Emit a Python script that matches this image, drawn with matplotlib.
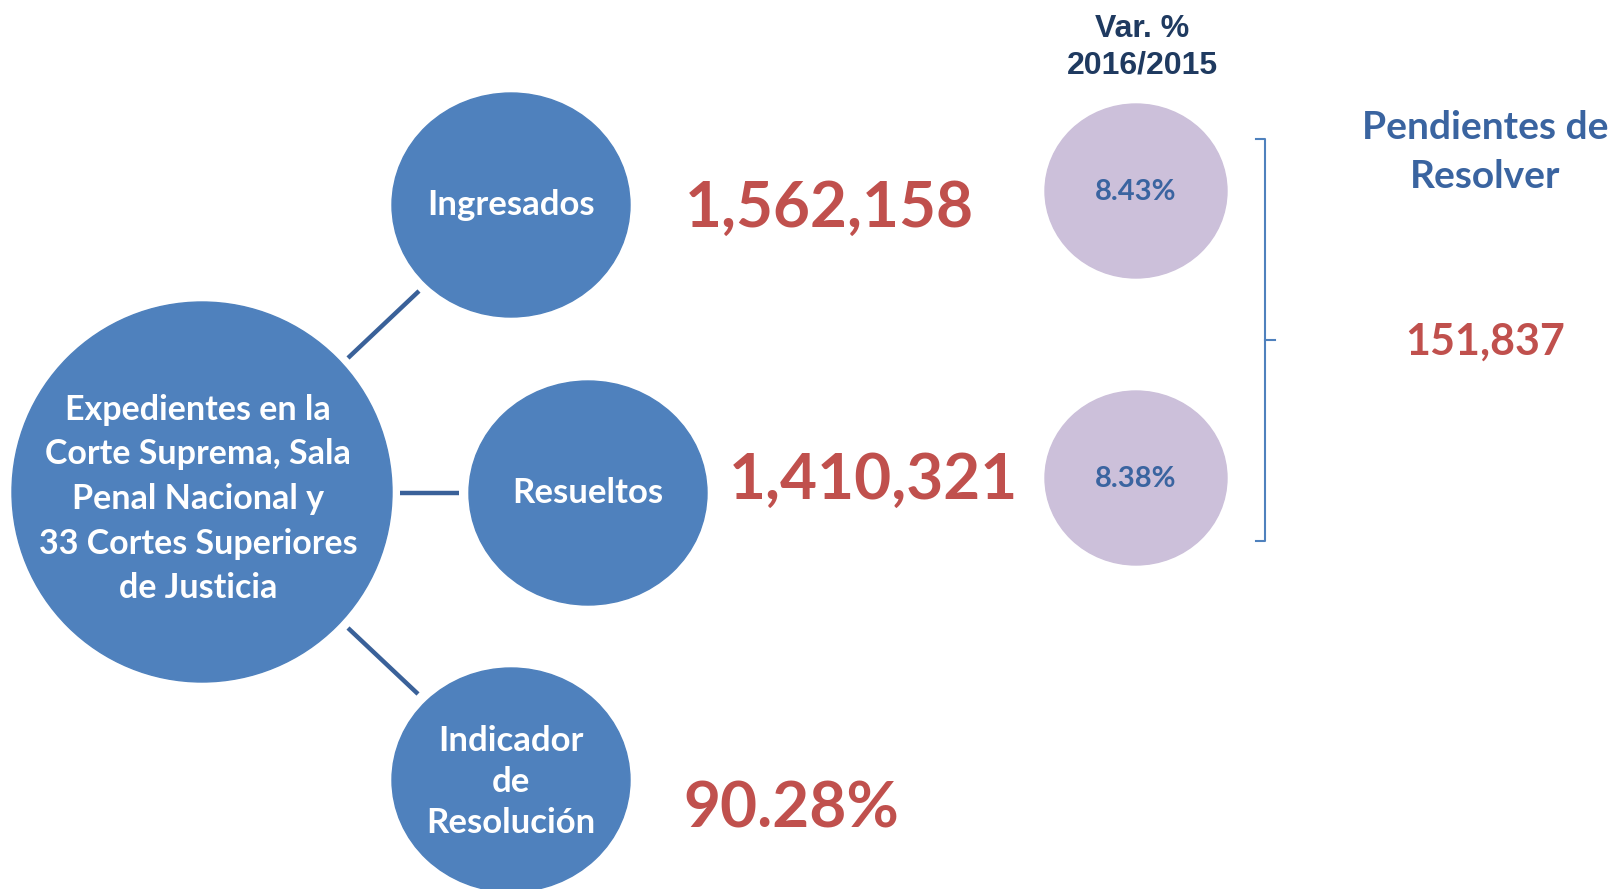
import matplotlib
matplotlib.use("Agg")
import matplotlib.pyplot as plt
from matplotlib.patches import Ellipse

# --------------------------------------------------------------------------------------------------
# Content
CENTER_LABEL = "Expedientes en la\nCorte Suprema, Sala\nPenal Nacional y\n33 Cortes Superiores\nde Justicia"
NODE_LABELS = ["Ingresados", "Resueltos", "Indicador\nde\nResolución"]
NODE_VALUES = ["1,562,158", "1,410,321", "90.28%"]
VAR_HEADER = "Var. %\n2016/2015"
VAR_VALUES = ["8.43%", "8.38%"]
PENDING_LABEL = "Pendientes de\nResolver"
PENDING_VALUE = "151,837"
# --------------------------------------------------------------------------------------------------
# Layout (pixels, origin at top left)
W, H = 1616, 889
CENTER_XY = (202, 492)
CENTER_R = 190
NODE_XY = [(511, 205), (588, 493), (511, 780)]
NODE_RX, NODE_RY = 119, 112
VALUE_XY = [(829, 208), (873, 480), (791, 809)]
LINKS = [((348, 358), (419, 291)), ((400, 493), (459, 493)), ((348, 628), (418, 694))]
VAR_XY = [(1136, 191), (1136, 478)]
VAR_RX, VAR_RY = 91, 87

BLUE = "#4F81BD"
LINK = "#3A6199"
LAVENDER = "#CCC0DA"
RED = "#C0504D"
NAVY = "#1F3A60"
TEXTBLUE = "#3A64A0"
FONT = ["Lato", "DejaVu Sans"]
# --------------------------------------------------------------------------------------------------


def main():
    plt.rcParams["font.family"] = FONT
    fig = plt.figure(figsize=(W / 100, H / 100), dpi=100)
    ax = fig.add_axes([0, 0, 1, 1])
    ax.set_xlim(0, W)
    ax.set_ylim(H, 0)
    ax.axis("off")

    for (x0, y0), (x1, y1) in LINKS:
        ax.plot([x0, x1], [y0, y1], color=LINK, linewidth=3.2, solid_capstyle="butt")

    ax.add_patch(Ellipse(CENTER_XY, 2 * CENTER_R, 2 * CENTER_R, color=BLUE))
    ax.text(CENTER_XY[0] - 4, CENTER_XY[1] + 7, CENTER_LABEL, color="white", fontsize=24.5,
            fontweight="bold", ha="center", va="center", linespacing=1.49)

    for (x, y), label, (vx, vy), val in zip(NODE_XY, NODE_LABELS, VALUE_XY, NODE_VALUES):
        ax.add_patch(Ellipse((x, y), 2 * NODE_RX, 2 * NODE_RY, color=BLUE))
        ax.text(x, y if "\n" not in label else y + 2, label, color="white", fontsize=25,
                fontweight="bold", ha="center", va="center", linespacing=1.35)
        ax.text(vx, vy, val, color=RED, fontsize=46, fontweight="bold",
                ha="center", va="center")

    ax.text(1142, 47, VAR_HEADER, color=NAVY, fontsize=23, fontweight="bold",
            ha="center", va="center", family=["Liberation Sans"], linespacing=1.28)
    for (x, y), val in zip(VAR_XY, VAR_VALUES):
        ax.add_patch(Ellipse((x, y), 2 * VAR_RX, 2 * VAR_RY, color=LAVENDER))
        ax.text(x, y + 1, val, color=TEXTBLUE, fontsize=21, fontweight="bold",
                ha="center", va="center")

    # bracket
    bx, top, mid, bot = 1265, 139, 340, 541
    ax.plot([bx - 9, bx, bx, bx - 9], [top, top, bot, bot], color=BLUE, linewidth=1.5)
    ax.plot([bx, bx + 10], [mid, mid], color=BLUE, linewidth=1.5)

    ax.text(1485, 152, PENDING_LABEL, color=TEXTBLUE, fontsize=28, fontweight="bold",
            ha="center", va="center", linespacing=1.48)
    ax.text(1485, 342, PENDING_VALUE, color=RED, fontsize=31, fontweight="bold",
            ha="center", va="center")

    fig.savefig("out.png", dpi=100)
    plt.close(fig)


if __name__ == '__main__':
    main()
